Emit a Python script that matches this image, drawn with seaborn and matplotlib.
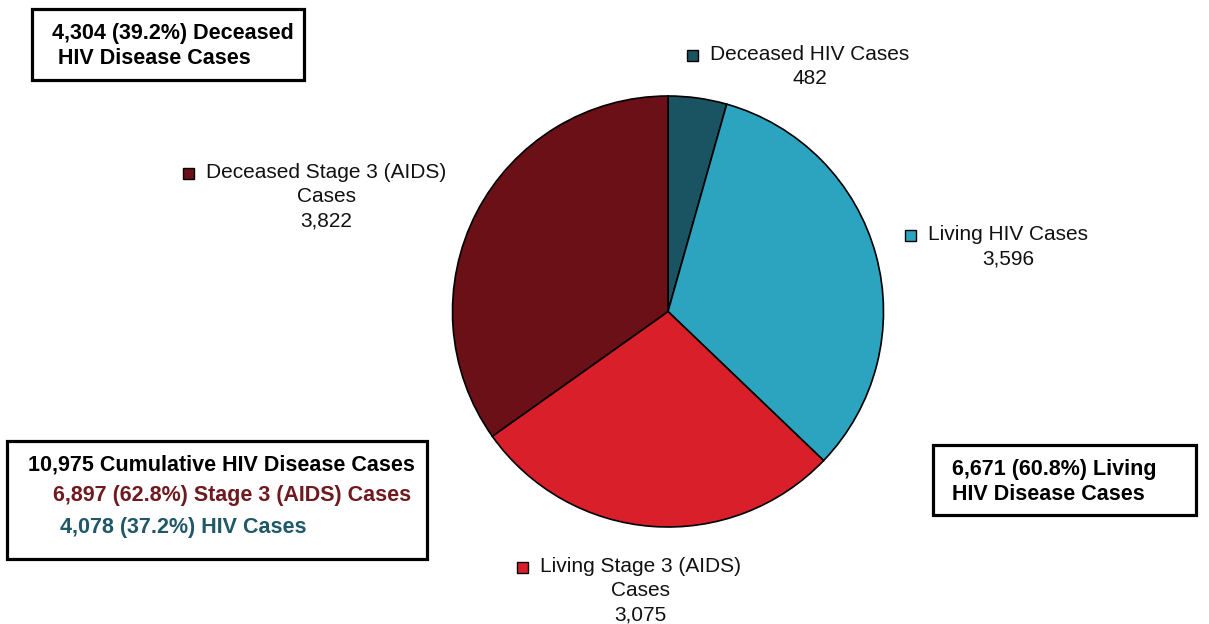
import matplotlib
matplotlib.use('Agg')
import matplotlib.pyplot as plt
import seaborn as sns
from matplotlib.patches import Rectangle

sns.set_style('white')
plt.rcParams['font.family'] = ['Liberation Sans', 'DejaVu Sans']
plt.rcParams['text.color'] = 'black'

# slices, clockwise from the top
categories = ['Deceased HIV Cases', 'Living HIV Cases',
              'Living Stage 3 (AIDS)\nCases', 'Deceased Stage 3 (AIDS)\nCases']
counts = [482, 3596, 3075, 3822]
colors = ['#1a5361', '#2ca3bf', '#d91f29', '#6b1016']

box_deceased = ['4,304 (39.2%) Deceased', ' HIV Disease Cases']
box_living = ['6,671 (60.8%) Living', 'HIV Disease Cases']
box_total = ['10,975 Cumulative HIV Disease Cases',
             '6,897 (62.8%) Stage 3 (AIDS) Cases',
             '4,078 (37.2%) HIV Cases']
box_total_colors = ['black', '#6e1a1f', '#1f5866']

W, H = 1209, 624


def py(y):
    # pixel row from top -> data y
    return H - y


fig = plt.figure(figsize=(W / 100, H / 100), dpi=100)
ax = fig.add_axes([0, 0, 1, 1])

ax.pie(counts, colors=colors, startangle=90, counterclock=False,
       center=(668, py(311.5)), radius=215.5,
       wedgeprops=dict(edgecolor='black', linewidth=1.2))
ax.set_xlim(0, W)
ax.set_ylim(0, H)
ax.set_aspect('equal')
ax.axis('off')

# slice labels: (centre x, first line y) in pixels
label_pos = [(810, 55), (1008, 235), (640, 567), (326, 173)]
fs = 15
first_lines = []
for cat, n, (cx, y0) in zip(categories, counts, label_pos):
    lines = cat.split('\n') + [f'{n:,}']
    for i, line in enumerate(lines):
        t = ax.text(cx, py(y0 + i * 24), line, ha='center', va='center',
                    fontsize=fs, color='#111111')
        if i == 0:
            first_lines.append(t)

fig.canvas.draw()
r = fig.canvas.get_renderer()
for t, c in zip(first_lines, colors):
    bb = t.get_window_extent(r)
    ymid = (bb.y0 + bb.y1) / 2
    ax.add_patch(Rectangle((bb.x0 - 23, ymid - 5.5), 11, 11, facecolor=c,
                           edgecolor='black', linewidth=1))


def box(x0, y0, x1, y1):
    ax.add_patch(Rectangle((x0, py(y1)), x1 - x0, y1 - y0, fill=False,
                           edgecolor='black', linewidth=2.3))


bfs = 15.5
box(32, 9, 304, 80)
ax.text(52, py(34), box_deceased[0], fontsize=bfs, fontweight='bold', va='center')
ax.text(52, py(59), box_deceased[1], fontsize=bfs, fontweight='bold', va='center')

box(933, 445, 1196, 515)
ax.text(952, py(470), box_living[0], fontsize=bfs, fontweight='bold', va='center')
ax.text(952, py(494), box_living[1], fontsize=bfs, fontweight='bold', va='center')

box(7, 441, 427, 559)
for line, c, x, y in zip(box_total, box_total_colors, [28, 53, 60], [465, 495, 528]):
    ax.text(x, py(y), line, fontsize=bfs, fontweight='bold', va='center', color=c)

fig.savefig('out.png', dpi=100, facecolor='white')
